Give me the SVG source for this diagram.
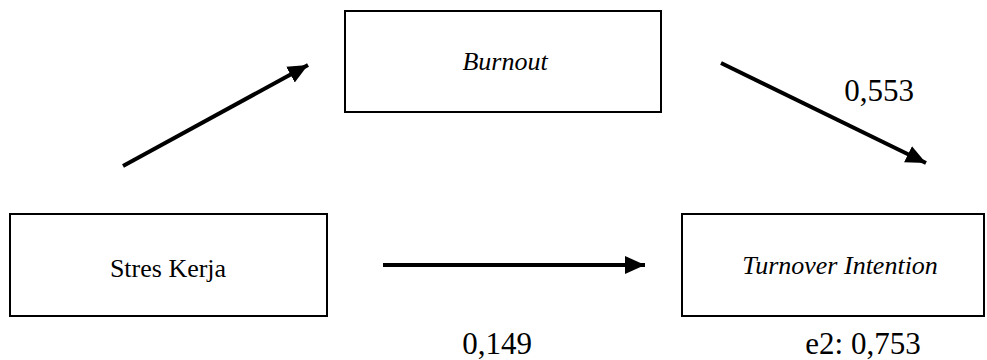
<svg xmlns="http://www.w3.org/2000/svg" width="987" height="360" viewBox="0 0 987 360">
<style>
.box{fill:#fff;stroke:#000;stroke-width:2}
.t{font-family:"Liberation Serif","Times New Roman",serif;font-size:26px;fill:#000;text-anchor:middle}
.n{font-size:31px}
.i{font-style:italic}
.c{stroke:#000;stroke-width:4;fill:none;marker-end:url(#ah)}
</style>
<defs>
<marker id="ah" markerUnits="userSpaceOnUse" markerWidth="22" markerHeight="22" viewBox="0 0 22 22" refX="20" refY="11" orient="auto">
<path d="M0,2 L20,11 L0,20 Z" fill="#000"/>
</marker>
</defs>
<rect width="987" height="360" fill="#fff"/>
<g id="burnout"><rect class="box" x="345" y="11" width="316" height="101"/><text class="t i" x="505" y="70">Burnout</text></g>
<g id="stres"><rect class="box" x="10" y="214" width="317" height="102"/><text class="t" x="168" y="277">Stres Kerja</text></g>
<g id="turnover"><rect class="box" x="682" y="214" width="302" height="102"/><text class="t i" x="840" y="274">Turnover Intention</text></g>
<g id="connectors">
<line class="c" x1="123" y1="166" x2="308" y2="65"/>
<line class="c" x1="721" y1="63" x2="926" y2="163"/>
<line class="c" x1="383" y1="265" x2="645" y2="265"/>
</g>
<g id="labels">
<text class="t n" x="879" y="101">0,553</text>
<text class="t n" x="497" y="354">0,149</text>
<text class="t n" x="863" y="354">e2: 0,753</text>
</g>
</svg>
